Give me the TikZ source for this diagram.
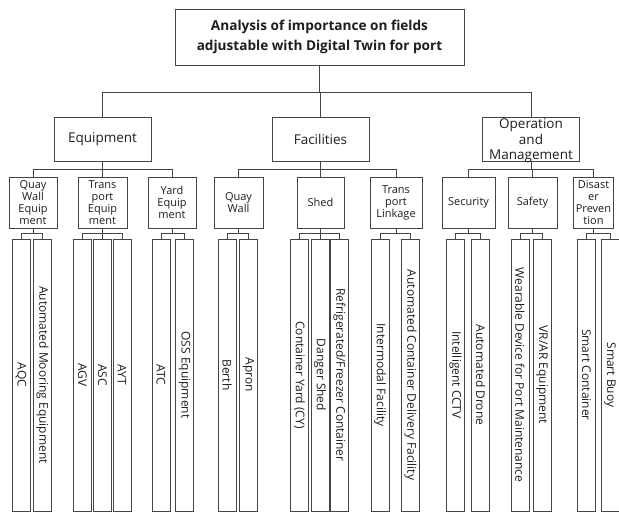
\documentclass[tikz,border=0pt]{standalone}
\usepackage{fontspec}
\setmainfont{Open Sans}
\usepackage{tikz}
\usetikzlibrary{positioning,calc}
\definecolor{dtline}{HTML}{444444}
\definecolor{dttext}{HTML}{1E1E1E}
\tikzset{
  box/.style={draw=dtline,fill=white,align=center,inner sep=1pt,line width=0.9pt,text=dttext},
  rootbox/.style={box,minimum width=289pt,minimum height=56pt,font=\bfseries\fontsize{13.6}{20}\selectfont},
  catbox/.style={box,minimum width=97pt,minimum height=44pt,font=\fontsize{13.5}{15.5}\selectfont},
  subbox/.style={box,minimum width=49pt,minimum height=51pt,inner sep=0pt,font=\fontsize{11}{12}\selectfont},
  leaf/.style={box,rotate=-90,minimum width=272pt,minimum height=18pt,inner sep=0pt,font=\fontsize{12}{13}\selectfont},
  ln/.style={draw=dtline,line width=0.9pt},
}

\begin{document}
\begin{tikzpicture}[x=1pt,y=1pt]
  \useasboundingbox (0,0) rectangle (619,513);
  % top
  \node[rootbox] (root) at (319.5,476) {Analysis of importance on fields\\adjustable with Digital Twin for port};
  % fields
  \node[catbox] (eq) at (102.5,374) {Equipment};
  \node[catbox] (fac) at (320.5,374) {Facilities};
  \node[catbox] (om) at (531,374) {};
  \node[align=center,text=dttext,inner sep=0pt,font=\fontsize{13.5}{15.5}\selectfont] (omtxt) at ([yshift=-2pt]om.center) {Operation\\and\\Management};
  % sub fields
  \node[subbox,minimum width=48pt] (qwe) at (33,310.5) {Quay\\Wall\\Equip\\ment};
  \node[subbox] (tre) at (102.5,310.5) {Trans\\port\\Equip\\ment};
  \node[subbox,minimum width=48pt] (yde) at (172,310.5) {Yard\\Equip\\ment};
  \node[subbox] (qw) at (238.5,310.5) {Quay\\Wall};
  \node[subbox,minimum width=47pt] (shed) at (320.5,310.5) {Shed};
  \node[subbox,minimum width=52pt] (tl) at (396,310.5) {Trans\\port\\Linkage};
  \node[subbox,minimum width=53pt] (sec) at (468.5,310.5) {Security};
  \node[subbox] (saf) at (532.5,310.5) {Safety};
  \node[subbox,minimum width=40pt] (dis) at (593.5,310.5) {Disast\\er\\Preven\\tion};
  % items
  \node[leaf] (aqc) at (21,138) {AQC};
  \node[leaf] (ame) at (42.5,138) {Automated Mooring Equipment};
  \node[leaf] (agv) at (82.5,138) {AGV};
  \node[leaf] (asc) at (102.5,138) {ASC};
  \node[leaf] (ayt) at (122,138) {AYT};
  \node[leaf] (atc) at (161,138) {ATC};
  \node[leaf] (oss) at (184.5,138) {OSS Equipment};
  \node[leaf] (berth) at (227,138) {Berth};
  \node[leaf] (apron) at (248.5,138) {Apron};
  \node[leaf] (cy) at (299.5,138) {Container Yard (CY)};
  \node[leaf] (dsh) at (320,138) {Danger Shed};
  \node[leaf] (rfc) at (339.5,138) {Refrigerated/Freezer Container};
  \node[leaf] (imf) at (380,138) {Intermodal Facility};
  \node[leaf] (acdf) at (410.5,138) {Automated Container Delivery Facility};
  \node[leaf] (cctv) at (455.5,138) {Intelligent CCTV};
  \node[leaf] (drone) at (480.5,138) {Automated Drone};
  \node[leaf] (wear) at (520,138) {Wearable Device for Port Maintenance};
  \node[leaf] (vrar) at (542,138) {VR/AR Equipment};
  \node[leaf] (scon) at (586.5,138) {Smart Container};
  \node[leaf] (sbuoy) at (610,138) {Smart Buoy};
  % links
  \draw[ln] (root.south) -- ++(0,-27) -| (eq.north);
  \draw[ln] (root.south) -- ++(0,-27) -| (om.north);
  \draw[ln] (root.south) -- ++(0,-27) -| (fac.north);
  \draw[ln] (eq.south) -- ++(0,-8) -| (qwe.north); \draw[ln] (eq.south) -- ++(0,-8) -| (yde.north); \draw[ln] (eq.south) -- (tre.north);
  \draw[ln] (fac.south) -- ++(0,-8) -| (qw.north); \draw[ln] (fac.south) -- ++(0,-8) -| (tl.north); \draw[ln] (fac.south) -- (shed.north);
  \draw[ln] (om.south) -- ++(0,-8) -| (sec.north); \draw[ln] (om.south) -- ++(0,-8) -| (dis.north); \draw[ln] (om.south) -- ++(0,-8) -| (saf.north);
  \draw[ln] (qwe.south) -- ++(0,-5) -| (aqc.west); \draw[ln] (qwe.south) -- ++(0,-5) -| (ame.west);
  \draw[ln] (tre.south) -- ++(0,-5) -| (agv.west); \draw[ln] (tre.south) -- ++(0,-5) -| (ayt.west); \draw[ln] (tre.south) -- (asc.west);
  \draw[ln] (yde.south) -- ++(0,-5) -| (atc.west); \draw[ln] (yde.south) -- ++(0,-5) -| (oss.west);
  \draw[ln] (qw.south) -- ++(0,-5) -| (berth.west); \draw[ln] (qw.south) -- ++(0,-5) -| (apron.west);
  \draw[ln] (shed.south) -- ++(0,-5) -| (cy.west); \draw[ln] (shed.south) -- ++(0,-5) -| (rfc.west); \draw[ln] (shed.south) -- ++(0,-5) -| (dsh.west);
  \draw[ln] (tl.south) -- ++(0,-5) -| (imf.west); \draw[ln] (tl.south) -- ++(0,-5) -| (acdf.west);
  \draw[ln] (sec.south) -- ++(0,-5) -| (cctv.west); \draw[ln] (sec.south) -- ++(0,-5) -| (drone.west);
  \draw[ln] (saf.south) -- ++(0,-5) -| (wear.west); \draw[ln] (saf.south) -- ++(0,-5) -| (vrar.west);
  \draw[ln] (dis.south) -- ++(0,-5) -| (scon.west); \draw[ln] (dis.south) -- ++(0,-5) -| (sbuoy.west);
\end{tikzpicture}
\end{document}
